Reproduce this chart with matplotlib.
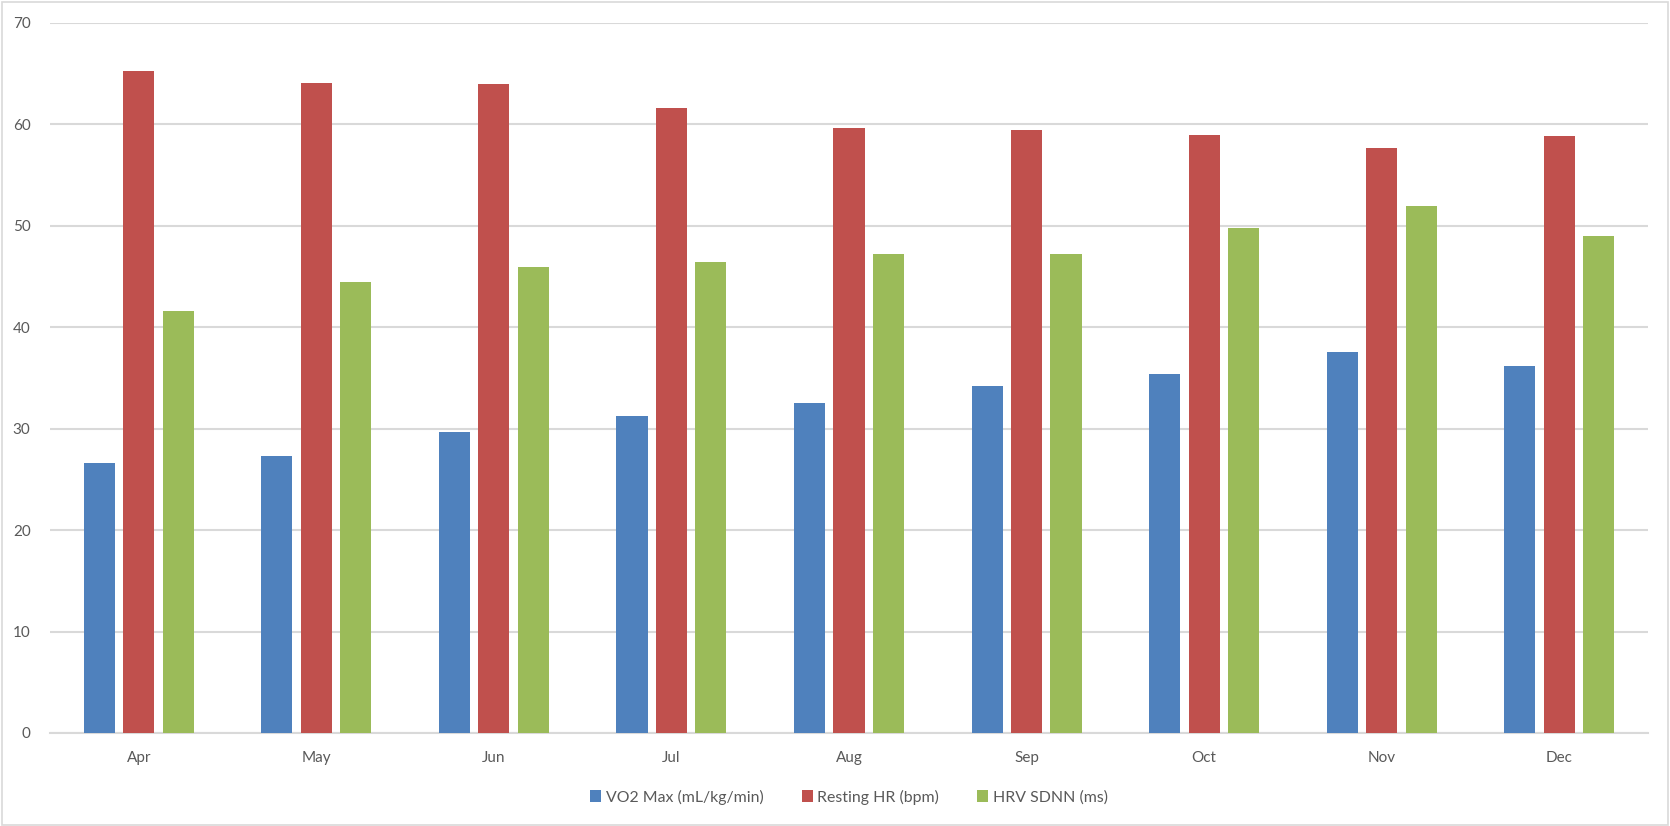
import numpy as np
import matplotlib.pyplot as plt
from matplotlib.patches import Rectangle, Patch

months = ["Apr", "May", "Jun", "Jul", "Aug", "Sep", "Oct", "Nov", "Dec"]
vo2_max = [26.6, 27.3, 29.7, 31.2, 32.5, 34.2, 35.4, 37.5, 36.2]
resting_hr = [65.2, 64.1, 64.0, 61.6, 59.6, 59.4, 58.9, 57.7, 58.8]
hrv_sdnn = [41.6, 44.4, 45.9, 46.4, 47.2, 47.2, 49.8, 51.9, 49.0]

series_names = ["VO2 Max (mL/kg/min)", "Resting HR (bpm)", "HRV SDNN (ms)"]
colors = ["#4F81BD", "#C0504D", "#9BBB59"]

plt.rcParams['font.family'] = ['Lato', 'DejaVu Sans']
text_color = "#595959"
grid_color = "#D9D9D9"

fig = plt.figure(figsize=(16.7, 8.26), dpi=100)
ax = fig.add_axes([50 / 1670, 1 - 733 / 826, 1598 / 1670, (733 - 22.7) / 826])

x = np.arange(len(months))
width = 0.175
step = 0.222
for i, (vals, col) in enumerate(zip([vo2_max, resting_hr, hrv_sdnn], colors)):
    ax.bar(x + (i - 1) * step, vals, width=width, color=col, zorder=3)

ax.set_xlim(-0.5, len(months) - 0.5)
ax.set_ylim(0, 70)
ax.set_yticks(range(0, 71, 10))
ax.set_xticks(x)
ax.set_xticklabels(months)
ax.yaxis.grid(True, color=grid_color, linewidth=1.5, zorder=0)
ax.set_axisbelow(True)
for s in ["top", "right", "left"]:
    ax.spines[s].set_visible(False)
ax.spines["bottom"].set_color(grid_color)
ax.spines["bottom"].set_linewidth(1.5)
ax.tick_params(axis="both", length=0, labelsize=11, labelcolor=text_color)
ax.tick_params(axis="y", pad=14)
ax.tick_params(axis="x", pad=13)

# legend below the plot, one row
handles = [Patch(facecolor=c, label=n) for c, n in zip(colors, series_names)]
fig.legend(handles=handles, loc="center", bbox_to_anchor=(849 / 1670, 1 - 797 / 826),
           ncol=3, frameon=False, fontsize=11.4, labelcolor=text_color,
           handlelength=0.7, handleheight=0.7, handletextpad=0.3, columnspacing=2.4)

# outer chart border
fig.patches.append(Rectangle((0.001, 0.001), 0.998, 0.997, transform=fig.transFigure,
                             fill=False, edgecolor=grid_color, linewidth=1.2))

fig.savefig("out.png", dpi=100, facecolor="white")
